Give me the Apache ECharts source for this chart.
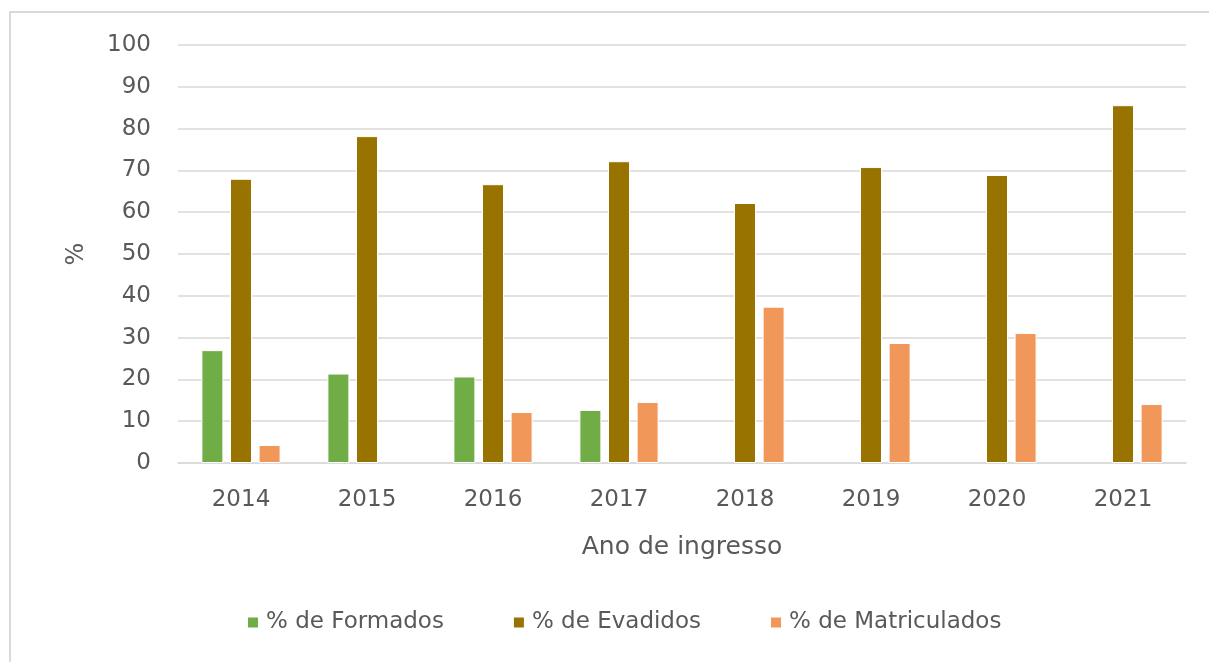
<!DOCTYPE html>
<html>
<head>
<meta charset="utf-8">
<script src="https://cdn.jsdelivr.net/npm/echarts@6/dist/echarts.min.js"></script>
<style>
  html, body { margin: 0; padding: 0; background: #fff; }
  #chart { width: 1209px; height: 662px; }
</style>
</head>
<body>
<div id="chart"></div>
<script>
const years = ["2014", "2015", "2016", "2017", "2018", "2019", "2020", "2021"];
const formados = [27, 21.4, 20.7, 12.7, null, null, null, null];
const evadidos = [68, 78.2, 66.7, 72.2, 62.2, 70.8, 68.9, 85.6];
const matriculados = [4.3, null, 12.2, 14.6, 37.4, 28.7, 31.1, 14.1];

const textColor = "#595959";
const font = "'DejaVu Sans', sans-serif";

const chart = echarts.init(document.getElementById("chart"), null, { renderer: "canvas" });

const barSeries = (name, data, color) => ({
  name,
  type: "bar",
  data,
  barWidth: 22,
  barGap: "30%",
  itemStyle: { color, borderColor: "#fff", borderWidth: 1 },
});

chart.setOption({
  animation: false,
  textStyle: { fontFamily: font, color: textColor },
  graphic: [
    {
      type: "rect",
      shape: { x: 10, y: 12, width: 1230, height: 700 },
      style: { fill: "none", stroke: "#d9d9d9", lineWidth: 2 },
      silent: true,
    },
  ],
  grid: { left: 178, right: 23, top: 45, bottom: 199 },
  legend: {
    bottom: 23,
    left: 241,
    itemWidth: 12,
    itemHeight: 12,
    itemGap: 68,
    icon: "rect",
    textStyle: { fontSize: 23, color: textColor, fontFamily: font, padding: [0, 0, 0, 2] },
  },
  xAxis: {
    type: "category",
    data: years,
    name: "Ano de ingresso",
    nameLocation: "middle",
    nameGap: 72,
    nameTextStyle: { fontSize: 25, color: textColor, fontFamily: font },
    axisTick: { show: false },
    axisLine: { lineStyle: { color: "#d9d9d9", width: 1.5 } },
    axisLabel: { fontSize: 23, color: textColor, margin: 26, fontFamily: font },
  },
  yAxis: {
    type: "value",
    min: 0,
    max: 100,
    interval: 10,
    name: "%",
    nameLocation: "middle",
    nameRotate: 90,
    nameGap: 89,
    nameTextStyle: { fontSize: 24, color: textColor, fontFamily: font },
    axisLine: { show: false },
    axisTick: { show: false },
    axisLabel: { fontSize: 23, color: textColor, margin: 27, fontFamily: font },
    splitLine: { lineStyle: { color: "#d9d9d9", width: 1.5 } },
  },
  series: [
    barSeries("% de Formados", formados, "#70ad47"),
    barSeries("% de Evadidos", evadidos, "#997300"),
    barSeries("% de Matriculados", matriculados, "#f1975a"),
  ],
});
</script>
</body>
</html>
